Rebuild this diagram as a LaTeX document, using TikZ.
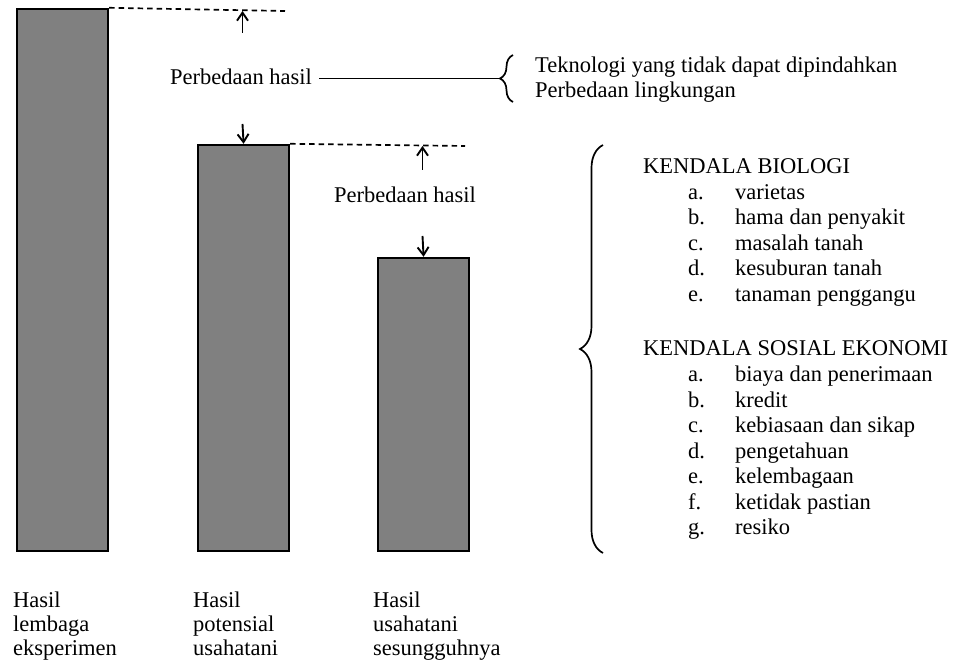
\documentclass[tikz,border=0pt]{standalone}
\usepackage{fontspec}
\setmainfont{Liberation Serif}
\usepackage{tikz}
\usetikzlibrary{arrows.meta, decorations.pathreplacing, positioning}
\definecolor{bargray}{RGB}{128,128,128}
\tikzset{
  bar/.style={draw, line width=2.2pt, fill=bargray, inner sep=0pt, anchor=south west, minimum width=91pt},
  gapline/.style={line width=1.7pt, dash pattern=on 5.5pt off 4pt},
  gaparrow/.style={-{Straight Barb[length=8pt,width=11pt]}, line width=1.9pt},
  lbl/.style={anchor=base west, inner sep=0pt},
  curly/.style={decorate, decoration={brace, amplitude=#1}, line width=1.7pt},
}

\begin{document}
\begin{tikzpicture}[x=1pt, y=1pt, every node/.style={font=\fontsize{22.5}{25.5}\selectfont}]
        \useasboundingbox (0,0) rectangle (955,662);
        % Bars
        \node[bar, minimum height=542pt] (lembaga) at (16,110) {};
        \node[bar, minimum height=406pt] (potensial) at (197,110) {};
        \node[bar, minimum height=293pt] (nyata) at (377,110) {};

        % Dashed levels
        \coordinate (d1) at (285,651);
        \coordinate (d2) at (465,516);
        \draw[gapline] (lembaga.north east) -- (d1);
        \draw[gapline] (potensial.north east) -- (d2);

        % Gap arrows
        \coordinate (u1) at (242.5,629);
        \coordinate (u1tip) at (242.5,651);
        \coordinate (v1) at (242.5,538);
        \coordinate (u2) at (422.5,492);
        \coordinate (u2tip) at (422.5,516);
        \coordinate (v2) at (422.5,426);
        \draw[gaparrow] (u1) -- (u1tip);
        \draw[gaparrow] (v1) -- (potensial.north);
        \draw[gaparrow] (u2) -- (u2tip);
        \draw[gaparrow] (v2) -- (nyata.north);

        % Gap labels
        \node[anchor=base] (gap1) at (241,577) {Perbedaan hasil};
        \node[anchor=base] (gap2) at (405,459) {Perbedaan hasil};

        % Small brace
        \coordinate (tip1) at (500,583.5);
        \draw[curly=13pt] (513,560) -- (513,607);
        \draw[line width=1.7pt] ([xshift=4pt]gap1.east |- tip1) -- (tip1);
        \node[lbl] (tek) at (535,589) {Teknologi yang tidak dapat dipindahkan};
        \node[lbl] (ling) at (535,564) {Perbedaan lingkungan};

        % Big brace
        \draw[curly=23pt] (603,109) -- (603,517);

        % Constraints
        \node[lbl] (bio) at (643,488) {KENDALA BIOLOGI};
        \foreach \l/\t [count=\i] in {a./varietas, b./hama dan penyakit, c./masalah tanah, d./kesuburan tanah, e./tanaman penggangu} {
          \node[lbl] (bio-\i-l) at (688,488-25.5*\i) {\l};
          \node[lbl] (bio-\i) at (735,488-25.5*\i) {\t};
        }
        \node[lbl] (sosek) at (643,306) {KENDALA SOSIAL EKONOMI};
        \foreach \l/\t [count=\i] in {a./biaya dan penerimaan, b./kredit, c./kebiasaan dan sikap, d./pengetahuan, e./kelembagaan, f./ketidak pastian, g./resiko} {
          \node[lbl] (sosek-\i-l) at (688,306-25.5*\i) {\l};
          \node[lbl] (sosek-\i) at (735,306-25.5*\i) {\t};
        }

        % Bar captions
        \foreach \x/\a/\b [count=\i] in {13/lembaga/eksperimen, 193/potensial/usahatani, 373/usahatani/sesungguhnya} {
          \node[lbl] (cap-\i-a) at (\x,55) {Hasil};
          \node[lbl] (cap-\i-b) at (\x,31) {\a};
          \node[lbl] (cap-\i-c) at (\x,7) {\b};
        }
    \end{tikzpicture}
\end{document}
